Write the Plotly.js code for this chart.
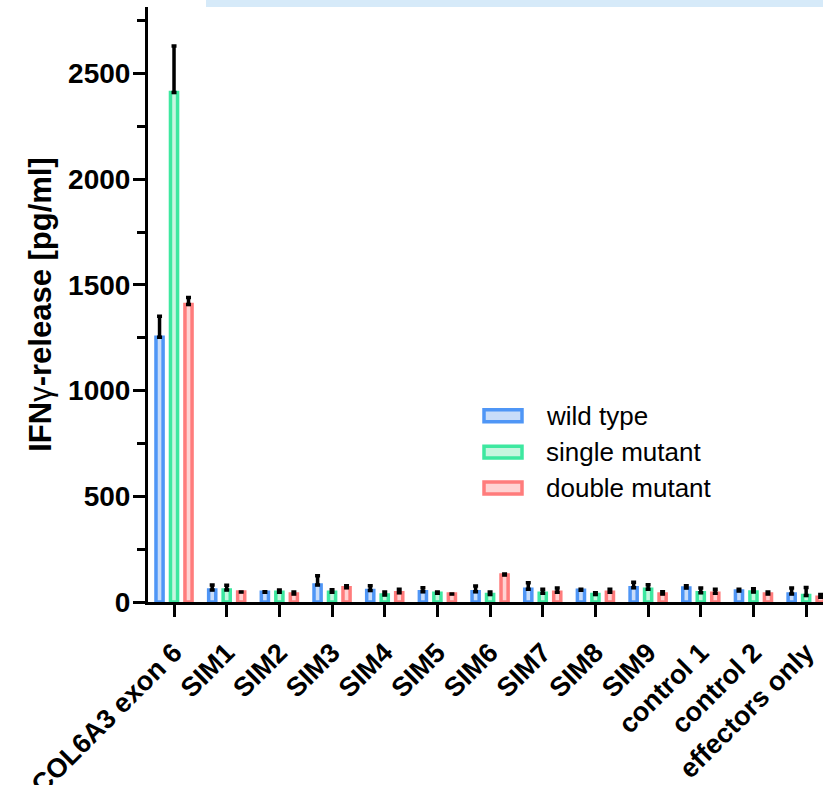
<!DOCTYPE html>
<html>
<head>
<meta charset="utf-8">
<script src="https://cdn.plot.ly/plotly-3.0.1.min.js"></script>
<style>html,body{margin:0;padding:0;background:#fff;}#chart{width:823px;height:785px;}</style>
</head>
<body>
<div id="chart"></div>
<script>
const categories = ["COL6A3 exon 6","SIM1","SIM2","SIM3","SIM4","SIM5","SIM6","SIM7","SIM8","SIM9","control 1","control 2","effectors only"];
const seriesNames = ["wild type","single mutant","double mutant"];
const wildType      = [1252, 57, 46, 80, 54, 49, 49, 60, 55, 68, 66, 52, 38];
const wildTypeErr   = [100, 23, 3, 44, 23, 19, 27, 31, 5, 26, 11, 8, 28];
const singleMutant    = [2410, 57, 46, 46, 33, 41, 35, 41, 36, 60, 44, 47, 31];
const singleMutantErr = [220, 22, 11, 12, 14, 6, 12, 19, 8, 22, 22, 16, 38];
const doubleMutant    = [1408, 47, 38, 68, 44, 38, 128, 46, 46, 38, 41, 38, 22];
const doubleMutantErr = [33, 0, 9, 9, 16, 0, 4, 20, 14, 11, 19, 9, 13];
const yTickVals = [0, 500, 1000, 1500, 2000, 2500];

const lineColors = ["#4f96f6", "#3de8a0", "#ff7c7c"];
const fillColors = ["#c9ddf9", "#c6f6df", "#ffd3d3"];
const offsets = [-0.3425, -0.0675, 0.2075];
const values = [wildType, singleMutant, doubleMutant];
const errs = [wildTypeErr, singleMutantErr, doubleMutantErr];

const FONT = "Arial, 'Liberation Sans', sans-serif";

const traces = values.map((v, i) => ({
  type: "bar",
  name: seriesNames[i],
  x: categories,
  y: v,
  width: 0.135,
  offset: offsets[i],
  marker: { color: fillColors[i], line: { color: lineColors[i], width: 3.5 } },
  error_y: {
    type: "data", symmetric: false, array: errs[i],
    arrayminus: v.map(() => 0), color: "#000", thickness: 3.5, width: 2.5
  },
  showlegend: false,
  hoverinfo: "skip"
}));

// custom legend
const L = 148, T = 7, PW = 675, PH = 595.5;
const px = x => (x - L) / PW;
const py = y => (T + PH - y) / PH;
const legendY = [416, 452.5, 488.5];
const shapes = [{
  type: "rect", xref: "paper", yref: "paper",
  x0: px(206), x1: 1.01, y0: 1, y1: py(-2),
  fillcolor: "#d6eaf9", line: { width: 0 }, layer: "above"
}];
const annotations = [];
seriesNames.forEach((n, i) => {
  shapes.push({
    type: "rect", xref: "paper", yref: "paper",
    x0: px(484), x1: px(522), y0: py(legendY[i] + 6), y1: py(legendY[i] - 6),
    fillcolor: fillColors[i], line: { color: lineColors[i], width: 3.5 }
  });
  annotations.push({
    xref: "paper", yref: "paper", x: px(544), y: py(legendY[i]),
    xanchor: "left", yanchor: "middle", showarrow: false, text: n,
    font: { family: FONT, size: 26, color: "#000" }
  });
});

const layout = {
  width: 823, height: 785,
  margin: { l: L, r: 0, t: T, b: 785 - T - PH, pad: 0 },
  paper_bgcolor: "#fff", plot_bgcolor: "#fff",
  barmode: "overlay",
  showlegend: false,
  xaxis: {
    type: "category",
    range: [-0.494, 12.32],
    showline: true, linecolor: "#000", linewidth: 3,
    ticks: "outside", ticklen: 12, tickwidth: 3, tickcolor: "#000",
    tickangle: -45,
    ticklabelstandoff: 9,
    tickfont: { family: FONT, size: 27, weight: 700, color: "#000" },
    showgrid: false, zeroline: false, fixedrange: true,
    automargin: false
  },
  yaxis: {
    range: [0, 2815],
    tickvals: yTickVals,
    showline: true, linecolor: "#000", linewidth: 3,
    ticks: "outside", ticklen: 12, tickwidth: 3, tickcolor: "#000",
    ticklabelstandoff: -3,
    minor: { dtick: 250, tick0: 0, ticks: "outside", ticklen: 8, tickwidth: 3, tickcolor: "#000", showgrid: false },
    tickfont: { family: FONT, size: 28, weight: 700, color: "#000" },
    showgrid: false, zeroline: false, fixedrange: true,
    title: {
      text: "IFN<span style=\"font-weight:normal\">γ</span>-release [pg/ml]",
      font: { family: FONT, size: 31, weight: 700, color: "#000" },
      standoff: 8
    },
    automargin: false
  },
  shapes: shapes,
  annotations: annotations
};

Plotly.newPlot("chart", traces, layout, { displayModeBar: false, staticPlot: true });
</script>
</body>
</html>
